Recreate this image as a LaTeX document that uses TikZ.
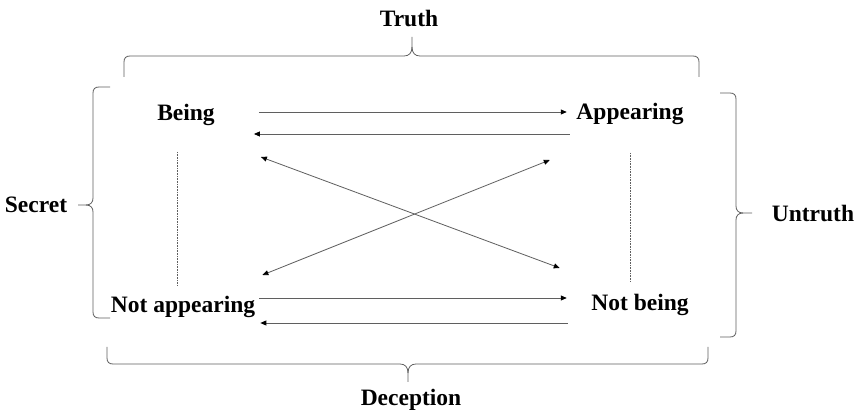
\documentclass[tikz,border=0pt]{standalone}
\usepackage{fontspec}
\setmainfont{Liberation Serif}
\usetikzlibrary{arrows.meta,calc}
\definecolor{linegray}{RGB}{95,95,95}
\tikzset{
  term/.style={font=\bfseries\fontsize{23.5}{28}\selectfont, inner sep=0pt, anchor=base},
  tip/.tip={Triangle[length=6pt,width=5pt,color=black]},
  arr/.style={draw=linegray, line width=0.8pt, -tip},
  dblarr/.style={draw=linegray, line width=0.8pt, tip-tip},
  dotline/.style={draw=linegray, line width=0.6pt, dash pattern=on 0.8pt off 0.8pt},
  bracepath/.style={draw=linegray, line width=0.8pt}
}
\begin{document}
\begin{tikzpicture}[x=1pt,y=-1pt]
\useasboundingbox (0,0) rectangle (857,411);
\fill[white] (0,0) rectangle (857,411);

% terms
\node[term] (being) at (186,121) {Being};
\node[term] (appearing) at (630,120) {Appearing};
\node[term] (notapp) at (183,313) {Not appearing};
\node[term] (notbeing) at (640,311) {Not being};

% labels
\node[term] (truth) at (409,27) {Truth};
\node[term] (deception) at (411,406) {Deception};
\node[term] (secret) at (36,213) {Secret};
\node[term] (untruth) at (813,222) {Untruth};

% horizontal arrows
\draw[arr] ($(being.base east)+(44,-9)$) -- ($(appearing.base west)+(-9.5,-8)$);
\draw[arr] ($(appearing.base west)+(-6.5,14)$) -- ($(being.base east)+(39,13)$);
\draw[arr] ($(notapp.base east)+(4,-15)$) -- ($(notbeing.base west)+(-24.4,-13)$);
\draw[arr] ($(notbeing.base west)+(-23.4,12)$) -- ($(notapp.base east)+(5,10)$);

% diagonal arrows
\draw[dblarr] ($(being.base east)+(46,36)$) -- ($(notbeing.base west)+(-31.4,-43)$);
\draw[dblarr] ($(notapp.base east)+(7,-38)$) -- ($(appearing.base west)+(-26.5,40)$);

% dotted verticals
\draw[dotline] ($(being.base)+(-9,31)$) -- ($(notapp.base)+(-6,-28)$);
\draw[dotline] ($(appearing.base)+(0,33)$) -- ($(notbeing.base)+(-10,-29)$);

% top brace (Truth)
\draw[bracepath] (124,77) -- (124,62) .. controls (124,58) and (126,56) .. (130,56)
  -- (404,56) .. controls (409,56) and (412,53) .. (412,47) -- (412,37);
\draw[bracepath] (412,47) .. controls (412,53) and (415,56) .. (420,56)
  -- (693,56) .. controls (697,56) and (699,58) .. (699,62) -- (699,77);

% bottom brace (Deception)
\draw[bracepath] (107,347) -- (107,358) .. controls (107,362) and (109,364) .. (113,364)
  -- (400,364) .. controls (405,364) and (408,367) .. (408,373) -- (408,382);
\draw[bracepath] (408,373) .. controls (408,367) and (411,364) .. (416,364)
  -- (702,364) .. controls (706,364) and (708,362) .. (708,358) -- (708,347);

% left brace (Secret)
\draw[bracepath] (110,87) -- (99,87) .. controls (95,87) and (93,89) .. (93,93)
  -- (93,198) .. controls (93,202) and (91,205) .. (86,205) -- (78,205);
\draw[bracepath] (86,205) .. controls (91,205) and (93,208) .. (93,212)
  -- (93,312) .. controls (93,316) and (95,318) .. (99,318) -- (110,318);

% right brace (Untruth)
\draw[bracepath] (720,93) -- (730,93) .. controls (734,93) and (736,95) .. (736,99)
  -- (736,206) .. controls (736,210) and (738,213) .. (743,213) -- (752,213);
\draw[bracepath] (743,213) .. controls (738,213) and (736,216) .. (736,220)
  -- (736,331) .. controls (736,335) and (734,337) .. (730,337) -- (720,337);
\end{tikzpicture}
\end{document}
